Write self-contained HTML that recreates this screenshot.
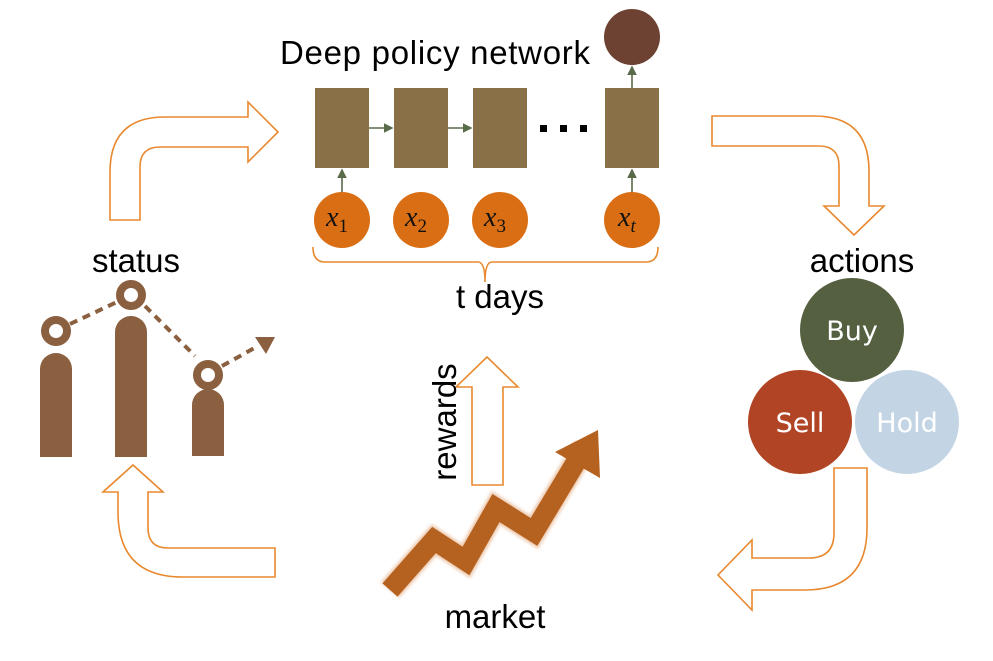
<!DOCTYPE html>
<html><head><style>
body{margin:0;background:#fff;}
svg text{font-family:"Liberation Sans",sans-serif;}
</style></head><body>
<svg width="993" height="656" viewBox="0 0 993 656" xmlns="http://www.w3.org/2000/svg">
<defs>
<marker id="ah" markerWidth="6" markerHeight="6" refX="5" refY="3" orient="auto"><path d="M0,0 L6,3 L0,6 Z" fill="#5a6b4a"/></marker>
<filter id="sh"><feGaussianBlur stdDeviation="1.5"/></filter>
</defs>
<g fill="none" stroke="#e8892f" stroke-width="1.6">
<path d="M110,220 L110,172 Q110,117 165,117 L248,117 L248,102 L278,132 L248,162 L248,147 L160,147 Q140,147 140,167 L140,220 Z"/>
<path d="M275,577 L183,577 Q118,577 118,512 L118,492 L103,492 L133,465 L163,492 L148,492 L148,528 Q148,548 168,548 L275,548 Z"/>
<path d="M712,116 L814,116 Q869,116 869,171 L869,206 L884,206 L854,235 L824,206 L839,206 L839,166 Q839,146 819,146 L712,146 Z"/>
<path d="M834,468 L867,468 L867,528 Q867,590 805,590 L752,590 L752,610 L718,575 L752,540 L752,558 L809,558 Q834,558 834,533 Z"/>
<path d="M472,485 L503,485 L503,387 L518,387 L487,357 L456,387 L472,387 Z"/>
<path d="M313,247 Q313,262 325,262 L478,262 Q485,262 485,282 Q485,262 492,262 L646,262 Q658,262 658,247"/>
</g>
<text x="280" y="64" font-size="33" fill="#000" textLength="310">Deep policy network</text>
<g fill="#8a7046">
<rect x="315" y="88" width="54" height="80"/>
<rect x="394" y="88" width="54" height="80"/>
<rect x="473" y="88" width="54" height="80"/>
<rect x="605" y="88" width="54" height="80"/>
</g>
<circle cx="632" cy="37" r="28" fill="#6e4232"/>
<g stroke="#5a6b4a" stroke-width="1.6" marker-end="url(#ah)">
<line x1="369" y1="128" x2="392" y2="128"/>
<line x1="448" y1="128" x2="471" y2="128"/>
<line x1="342" y1="193" x2="342" y2="170"/>
<line x1="632" y1="193" x2="632" y2="170"/>
<line x1="632" y1="88" x2="632" y2="67"/>
</g>
<g fill="#000"><rect x="540" y="125" width="7" height="7"/><rect x="560" y="125" width="7" height="7"/><rect x="580" y="125" width="7" height="7"/></g>
<g fill="#d96e14">
<circle cx="342" cy="220" r="28"/><circle cx="421" cy="220" r="28"/><circle cx="500" cy="220" r="28"/><circle cx="632" cy="220" r="28"/>
</g>
<g font-style="italic" font-size="28" fill="#111">
<text x="326" y="226" style="font-family:'Liberation Serif',serif">x<tspan font-size="19" font-style="normal" dy="6">1</tspan></text>
<text x="405" y="226" style="font-family:'Liberation Serif',serif">x<tspan font-size="19" font-style="normal" dy="6">2</tspan></text>
<text x="484" y="226" style="font-family:'Liberation Serif',serif">x<tspan font-size="19" font-style="normal" dy="6">3</tspan></text>
<text x="618" y="226" style="font-family:'Liberation Serif',serif">x<tspan font-size="19" dy="6">t</tspan></text>
</g>
<text x="500" y="308" font-size="33" text-anchor="middle">t days</text>
<text x="136" y="272" font-size="33" text-anchor="middle">status</text>
<g fill="#8b6040">
<path d="M40,457 L40,369 A16,16 0 0 1 72,369 L72,457 Z"/>
<path d="M115,457 L115,332 A16,16 0 0 1 147,332 L147,457 Z"/>
<path d="M192,456 L192,405 A16,16 0 0 1 224,405 L224,456 Z"/>
<path d="M255,337 L275,337 L266,354 Z"/>
</g>
<g fill="none" stroke="#8b6040">
<circle cx="56" cy="331" r="11" stroke-width="8"/>
<circle cx="131" cy="295" r="11" stroke-width="8"/>
<circle cx="208" cy="375" r="11" stroke-width="8"/>
<path d="M70,324 L117,302 M145,306 L195,356 M222,366 L258,346" stroke-width="4" stroke-dasharray="8,6"/>
</g>
<text x="862" y="272" font-size="33" text-anchor="middle">actions</text>
<circle cx="852" cy="330" r="52" fill="#546040"/>
<circle cx="800" cy="422" r="52" fill="#b04424"/>
<circle cx="907" cy="422" r="52" fill="#c3d5e5"/>
<g font-size="27" fill="#fff" text-anchor="middle">
<text x="852" y="340" style="font-family:'DejaVu Sans',sans-serif">Buy</text>
<text x="800" y="432" style="font-family:'DejaVu Sans',sans-serif">Sell</text>
<text x="907" y="432" style="font-family:'DejaVu Sans',sans-serif">Hold</text>
</g>
<text transform="translate(456,422) rotate(-90)" font-size="33" text-anchor="middle">rewards</text>
<g>
<path d="M390,590 L434,540 L466,561 L496,508 L534,532 L585,447" fill="none" stroke="#e0a070" stroke-width="24" filter="url(#sh)" opacity="0.6"/>
<path d="M390,590 L434,540 L466,561 L496,508 L534,532 L582,452" fill="none" stroke="#b5611f" stroke-width="20"/>
<path d="M555,452 L598,430 L600,478 Z" fill="#b5611f"/>
</g>
<text x="495" y="628" font-size="33" text-anchor="middle">market</text>
</svg>
</body></html>
